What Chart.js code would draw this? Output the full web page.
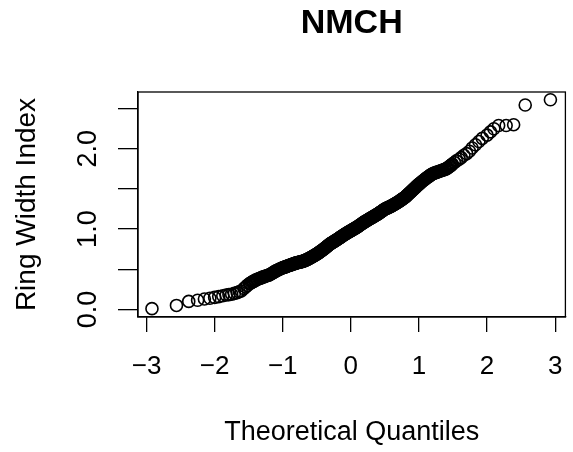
<!DOCTYPE html>
<html>
<head>
<meta charset="utf-8">
<title>NMCH</title>
<script src="https://cdn.jsdelivr.net/npm/chart.js@4.4.1/dist/chart.umd.min.js"></script>
<style>
  html, body { margin: 0; padding: 0; background: #fff; }
  #qqChart { display: block; }
</style>
</head>
<body>
<canvas id="qqChart" width="573" height="452"></canvas>
<script>
// theoretical normal quantiles (x) and sorted ring width index values (y)
const theoQuant = [
  -2.92, -2.56, -2.38, -2.25, -2.15, -2.07, -2.00, -1.94, -1.88, -1.83,
  -1.79, -1.75, -1.71, -1.67, -1.64, -1.61, -1.57, -1.545, -1.52, -1.49,
  -1.475, -1.46, -1.445, -1.43, -1.415, -1.40, -1.385, -1.37, -1.355, -1.34,
  -1.325, -1.31, -1.295, -1.28, -1.265, -1.25, -1.235, -1.22, -1.205, -1.19,
  -1.175, -1.16, -1.145, -1.13, -1.115, -1.10, -1.085, -1.07, -1.055, -1.04,
  -1.025, -1.01,
  -1.00, -0.99, -0.98, -0.97, -0.96, -0.95, -0.94, -0.93, -0.92, -0.91,
  -0.90, -0.89, -0.88, -0.87, -0.86, -0.85, -0.84, -0.83, -0.82, -0.81,
  -0.80, -0.79, -0.78, -0.77, -0.76, -0.75, -0.74, -0.73, -0.72, -0.71,
  -0.70, -0.69, -0.68, -0.67, -0.66, -0.65, -0.64, -0.63, -0.62, -0.61,
  -0.60, -0.59, -0.58, -0.57, -0.56, -0.55, -0.54, -0.53, -0.52, -0.51,
  -0.50, -0.49, -0.48, -0.47, -0.46, -0.45, -0.44, -0.43, -0.42, -0.41,
  -0.40, -0.39, -0.38, -0.37, -0.36, -0.35, -0.34, -0.33, -0.32, -0.31,
  -0.30, -0.29, -0.28, -0.27, -0.26, -0.25, -0.24, -0.23, -0.22, -0.21,
  -0.20, -0.19, -0.18, -0.17, -0.16, -0.15, -0.14, -0.13, -0.12, -0.11,
  -0.10, -0.09, -0.08, -0.07, -0.06, -0.05, -0.04, -0.03, -0.02, -0.01,
  0.00, 0.01, 0.02, 0.03, 0.04, 0.05, 0.06, 0.07, 0.08, 0.09,
  0.10, 0.11, 0.12, 0.13, 0.14, 0.15, 0.16, 0.17, 0.18, 0.19,
  0.20, 0.21, 0.22, 0.23, 0.24, 0.25, 0.26, 0.27, 0.28, 0.29,
  0.30, 0.31, 0.32, 0.33, 0.34, 0.35, 0.36, 0.37, 0.38, 0.39,
  0.40, 0.41, 0.42, 0.43, 0.44, 0.45, 0.46, 0.47, 0.48, 0.49,
  0.50, 0.51, 0.52, 0.53, 0.54, 0.55, 0.56, 0.57, 0.58, 0.59,
  0.60, 0.61, 0.62, 0.63, 0.64, 0.65, 0.66, 0.67, 0.68, 0.69,
  0.70, 0.71, 0.72, 0.73, 0.74, 0.75, 0.76, 0.77, 0.78, 0.79,
  0.80, 0.81, 0.82, 0.83, 0.84, 0.85, 0.86, 0.87, 0.88, 0.89,
  0.90, 0.91, 0.92, 0.93, 0.94, 0.95, 0.96, 0.97, 0.98, 0.99,
  1.00,
  1.015, 1.03, 1.045, 1.06, 1.075, 1.09, 1.105, 1.12, 1.135, 1.15,
  1.165, 1.18, 1.195, 1.21, 1.225, 1.24, 1.255, 1.27, 1.285, 1.30,
  1.315, 1.33, 1.345, 1.36, 1.375, 1.39, 1.405, 1.42, 1.435, 1.45,
  1.465, 1.48,
  1.49, 1.52, 1.55, 1.59, 1.62, 1.66, 1.70, 1.74, 1.78, 1.83,
  1.88, 1.93, 2.00, 2.05, 2.10, 2.17, 2.28, 2.39, 2.56, 2.93
];
const ringWidth = [
  0.01, 0.05, 0.10, 0.115, 0.13, 0.14, 0.15, 0.16, 0.17, 0.18,
  0.185, 0.19, 0.20, 0.21, 0.22, 0.23, 0.26, 0.28, 0.30, 0.32,
  0.327, 0.335, 0.343, 0.35, 0.356, 0.365, 0.369, 0.376, 0.382, 0.386,
  0.39, 0.397, 0.403, 0.406, 0.41, 0.416, 0.42, 0.423, 0.428, 0.435,
  0.441, 0.448, 0.457, 0.465, 0.471, 0.48, 0.485, 0.492, 0.499, 0.503,
  0.51, 0.516,
  0.519, 0.522, 0.524, 0.528, 0.531, 0.533, 0.536, 0.541, 0.544, 0.547,
  0.55, 0.552, 0.556, 0.558, 0.561, 0.565, 0.568, 0.57, 0.573, 0.577,
  0.58, 0.581, 0.583, 0.586, 0.587, 0.589, 0.592, 0.593, 0.595, 0.598,
  0.601, 0.604, 0.608, 0.611, 0.614, 0.619, 0.624, 0.627, 0.632, 0.636,
  0.641, 0.646, 0.65, 0.654, 0.659, 0.665, 0.67, 0.674, 0.68, 0.685,
  0.69, 0.695, 0.701, 0.708, 0.713, 0.719, 0.726, 0.731, 0.738, 0.744,
  0.75, 0.757, 0.764, 0.771, 0.778, 0.785, 0.792, 0.799, 0.806, 0.812,
  0.819, 0.824, 0.829, 0.834, 0.839, 0.845, 0.85, 0.855, 0.861, 0.866,
  0.871, 0.877, 0.883, 0.889, 0.894, 0.9, 0.906, 0.912, 0.918, 0.923,
  0.93, 0.935, 0.94, 0.946, 0.95, 0.955, 0.961, 0.966, 0.97, 0.975,
  0.98, 0.985, 0.991, 0.996, 1.0, 1.005, 1.01, 1.016, 1.021, 1.025,
  1.03, 1.036, 1.043, 1.048, 1.054, 1.06, 1.067, 1.073, 1.078, 1.084,
  1.09, 1.095, 1.1, 1.105, 1.111, 1.115, 1.12, 1.126, 1.131, 1.135,
  1.14, 1.145, 1.15, 1.156, 1.16, 1.165, 1.171, 1.175, 1.181, 1.185,
  1.19, 1.196, 1.203, 1.208, 1.214, 1.22, 1.226, 1.233, 1.238, 1.244,
  1.25, 1.253, 1.258, 1.262, 1.265, 1.27, 1.274, 1.277, 1.282, 1.286,
  1.29, 1.295, 1.301, 1.305, 1.31, 1.315, 1.321, 1.325, 1.33, 1.335,
  1.34, 1.346, 1.353, 1.358, 1.364, 1.37, 1.377, 1.382, 1.388, 1.394,
  1.40, 1.408, 1.417, 1.424, 1.432, 1.44, 1.449, 1.456, 1.464, 1.472,
  1.48, 1.488, 1.497, 1.504, 1.512, 1.52, 1.529, 1.536, 1.544, 1.552,
  1.56,
  1.57, 1.581, 1.592, 1.602, 1.612, 1.623, 1.633, 1.642, 1.651, 1.66,
  1.669, 1.678, 1.687, 1.693, 1.697, 1.702, 1.706, 1.711, 1.715, 1.72,
  1.724, 1.729, 1.733, 1.738, 1.742, 1.747, 1.753, 1.762, 1.771, 1.781,
  1.79, 1.80,
  1.81, 1.83, 1.85, 1.87, 1.89, 1.92, 1.94, 1.97, 2.01, 2.05,
  2.09, 2.13, 2.17, 2.21, 2.25, 2.29, 2.29, 2.30, 2.545, 2.61
];

const xTickValues = [-3, -2, -1, 0, 1, 2, 3];
const yTickValues = [0, 0.5, 1, 1.5, 2, 2.5];
const yTickLabels = [0, 1, 2];  // R drops the ones that would overlap

const chartTitle = 'NMCH';
const xTitle = 'Theoretical Quantiles';
const yTitle = 'Ring Width Index';

const points = theoQuant.map((q, i) => ({ x: q, y: ringWidth[i] }));

Chart.defaults.color = '#000';
Chart.defaults.font.family = '"Liberation Sans", Arial, sans-serif';

// plain box around the plotting region, like R's box()
const plotBox = {
  id: 'plotBox',
  afterDatasetsDraw(chart) {
    const { ctx, chartArea: a } = chart;
    ctx.save();
    ctx.strokeStyle = '#000';
    ctx.lineWidth = 1.3;
    ctx.strokeRect(a.left, a.top, a.right - a.left, a.bottom - a.top);
    ctx.restore();
  }
};

const ctx = document.getElementById('qqChart').getContext('2d');
const qqChart = new Chart(ctx, {
  type: 'scatter',
  data: {
    datasets: [{
      data: points,
      pointStyle: 'circle',
      pointRadius: 6,
      pointBorderWidth: 1.6,
      pointBackgroundColor: 'rgba(0,0,0,0)',
      pointBorderColor: '#000',
      clip: false
    }]
  },
  options: {
    responsive: false,
    animation: false,
    events: [],
    layout: { padding: { left: 0, right: 6, top: 0, bottom: 0 } },
    plugins: {
      legend: { display: false },
      tooltip: { enabled: false },
      title: {
        display: true,
        text: chartTitle,
        fullSize: false,
        color: '#000',
        font: { size: 34, weight: 'bold' },
        padding: { top: 3, bottom: 48.2 }
      }
    },
    scales: {
      x: {
        type: 'linear',
        min: -3.125,
        max: 3.15,
        afterFit(scale) {
          // keep the plot box fixed; edge labels may hang past it
          scale.height = 135;
          scale.paddingLeft = 0;
          scale.paddingRight = 0;
        },
        afterBuildTicks(scale) { scale.ticks = xTickValues.map(v => ({ value: v })); },
        grid: { drawOnChartArea: false, drawTicks: true, tickLength: 15, color: '#000', lineWidth: 1.3 },
        border: { display: true, color: '#000', width: 1.3 },
        ticks: {
          padding: 19,
          font: { size: 26 },
          maxRotation: 0,
          callback: v => (v < 0 ? '\u2212' + Math.abs(v) : String(v))
        },
        title: {
          display: true,
          text: xTitle,
          font: { size: 27 },
          padding: { top: 0, bottom: 3 }
        }
      },
      y: {
        type: 'linear',
        min: -0.094,
        max: 2.707,
        afterFit(scale) {
          scale.width = 138;
          scale.paddingTop = 0;
          scale.paddingBottom = 0;
        },
        afterBuildTicks(scale) { scale.ticks = yTickValues.map(v => ({ value: v })); },
        grid: { drawOnChartArea: false, drawTicks: true, tickLength: 20, color: '#000', lineWidth: 1.3 },
        border: { display: true, color: '#000', width: 1.3 },
        ticks: {
          padding: 11,
          font: { size: 27 },
          minRotation: 90,
          maxRotation: 90,
          crossAlign: 'center',
          callback: v => (yTickLabels.includes(v) ? v.toFixed(1) : '')
        },
        title: {
          display: true,
          text: yTitle,
          font: { size: 28 },
          padding: { top: 10, bottom: 0 }
        }
      }
    }
  },
  plugins: [plotBox]
});
</script>
</body>
</html>
